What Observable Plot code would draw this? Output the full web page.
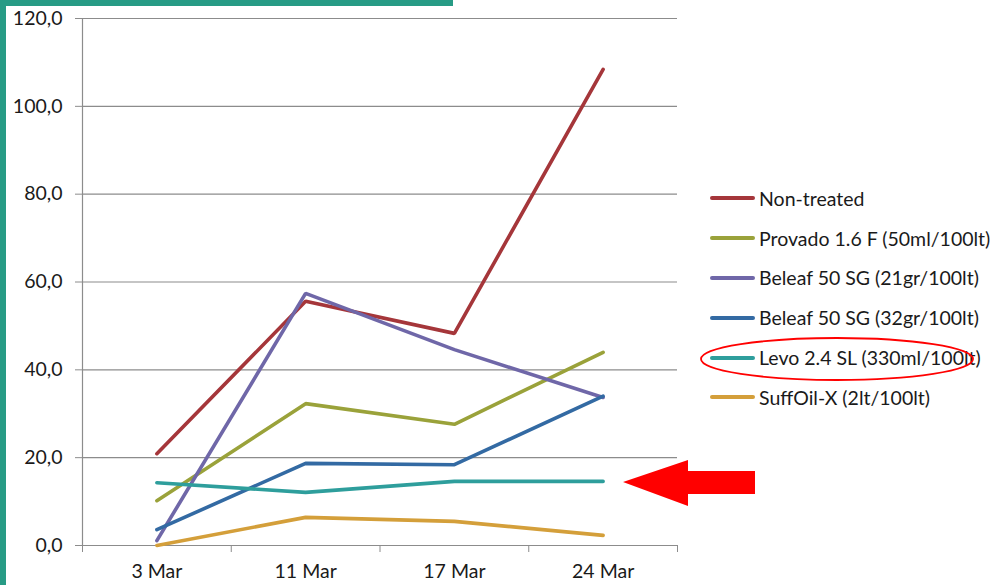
<!DOCTYPE html>
<html>
<head>
<meta charset="utf-8">
<script src="https://cdn.jsdelivr.net/npm/d3@7"></script>
<script src="https://cdn.jsdelivr.net/npm/@observablehq/plot@0.6"></script>
<style>
  html, body { margin: 0; padding: 0; background: #fff; }
  #wrap { position: relative; width: 997px; height: 585px; overflow: hidden; font-family: Lato, "Open Sans", sans-serif; }
  #legend { position: absolute; left: 710px; top: 178.5px; font-size: 19.5px; color: #1a1a1a; }
  .item { display: flex; align-items: center; height: 39.8px; white-space: nowrap; }
  .item .sw { width: 45px; height: 4px; border-radius: 2px; margin-right: 4px; }
  #overlay { position: absolute; left: 0; top: 0; pointer-events: none; }
</style>
</head>
<body>
<div id="wrap">
  <div id="chart"></div>
  <div id="legend"></div>
  <svg id="overlay" width="997" height="585"></svg>
</div>
<script>
const dates = ["3 Mar", "11 Mar", "17 Mar", "24 Mar"];
const seriesNames = [
  "Non-treated",
  "Provado 1.6 F (50ml/100lt)",
  "Beleaf 50 SG (21gr/100lt)",
  "Beleaf 50 SG (32gr/100lt)",
  "Levo 2.4 SL (330ml/100lt)",
  "SuffOil-X (2lt/100lt)"
];
const colors = ["#A5363A", "#9AA23A", "#6F67A8", "#336AA3", "#2E9E9C", "#D49F3A"];
const nonTreated = [20.9, 55.6, 48.3, 108.4];
const provado = [10.2, 32.3, 27.6, 44.0];
const beleaf21 = [1.1, 57.4, 44.6, 33.7];
const beleaf32 = [3.6, 18.7, 18.4, 34.0];
const levo = [14.3, 12.1, 14.6, 14.6];
const suffOil = [0.0, 6.4, 5.5, 2.3];
const yTicks = [0, 20, 40, 60, 80, 100, 120];

const allValues = [nonTreated, provado, beleaf21, beleaf32, levo, suffOil];
const data = [];
allValues.forEach((vals, s) => vals.forEach((v, i) => data.push({series: seriesNames[s], idx: i, value: v})));

const fmt = d => d.toFixed(1).replace(".", ",");
const font = "Lato, 'Open Sans', sans-serif";

const chart = Plot.plot({
  width: 997,
  height: 585,
  marginLeft: 82,
  marginRight: 320,
  marginTop: 18,
  marginBottom: 40,
  style: {fontFamily: font, fontSize: "19.5px", color: "#1a1a1a", background: "transparent"},
  x: {domain: [-0.5, 3.5], axis: null, label: null},
  y: {domain: [0, 120], axis: null, label: null},
  color: {domain: seriesNames, range: colors},
  marks: [
    Plot.ruleY(yTicks, {x1: -0.5, x2: 3.5, stroke: "#8c8c8c", strokeWidth: 1.2}),
    Plot.ruleX([-0.5], {y1: 0, y2: 120, stroke: "#8c8c8c", strokeWidth: 1.2}),
    Plot.axisY({ticks: yTicks, tickSize: 7, tickPadding: 13, tickFormat: fmt, stroke: "#8c8c8c", fontSize: 19.5, fill: "#1a1a1a", label: null}),
    Plot.axisX({ticks: [-0.5, 0.5, 1.5, 2.5, 3.5], tickSize: 7, tickFormat: () => "", stroke: "#8c8c8c", label: null}),
    Plot.axisX({ticks: [0, 1, 2, 3], tickSize: 0, tickPadding: 19, tickFormat: i => dates[i], fontSize: 19.5, fill: "#1a1a1a", label: null}),
    Plot.line(data, {x: "idx", y: "value", z: "series", stroke: "series", strokeWidth: 3.6, strokeLinejoin: "miter", strokeLinecap: "round"})
  ]
});
document.getElementById("chart").appendChild(chart);

const legend = document.getElementById("legend");
seriesNames.forEach((n, i) => {
  const d = document.createElement("div");
  d.className = "item";
  d.innerHTML = `<span class="sw" style="background:${colors[i]}"></span><span>${n}</span>`;
  legend.appendChild(d);
});

// Decorations: green frame bars, red ellipse and arrow
const ov = d3.select("#overlay");
ov.append("rect").attr("x", 0).attr("y", 0).attr("width", 453).attr("height", 6).attr("fill", "#279B85");
ov.append("rect").attr("x", 0).attr("y", 0).attr("width", 6).attr("height", 585).attr("fill", "#279B85");
ov.append("ellipse").attr("cx", 837).attr("cy", 359).attr("rx", 136).attr("ry", 21)
  .attr("fill", "none").attr("stroke", "#ff0000").attr("stroke-width", 1.8);
ov.append("path").attr("d", "M623,482 L688,460 L688,471 L755,471 L755,494 L688,494 L688,506 Z").attr("fill", "#ff0000");
</script>
</body>
</html>
